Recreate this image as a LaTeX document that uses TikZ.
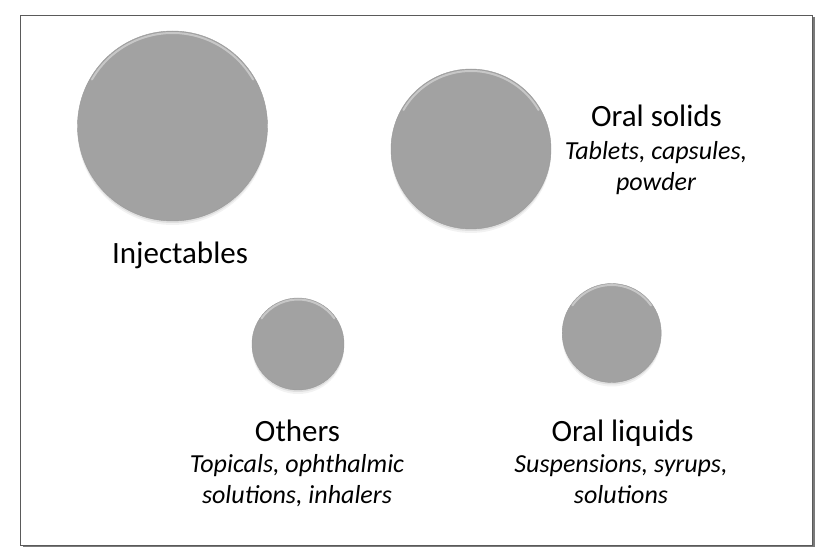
\documentclass[tikz,border=0pt]{standalone}
\usepackage{fontspec}
\setmainfont{Carlito}
\usetikzlibrary{calc}
\definecolor{orbgray}{HTML}{A2A2A2}
\definecolor{orbedge}{HTML}{9A9A9A}
\definecolor{framecol}{HTML}{5A5A5A}
\definecolor{shadowcol}{HTML}{7A7A7A}
\tikzset{
  orb/.style={circle, inner sep=0pt, fill=orbgray, draw=orbedge, line width=0.4pt,
    preaction={fill=black, opacity=0.05, transform canvas={yshift=-4pt}},
    preaction={fill=black, opacity=0.08, transform canvas={yshift=-2pt}}},
  hilite/.style={white, opacity=0.4, line width=2pt, line cap=round},
  title/.style={inner sep=0pt, anchor=base, font=\fontsize{31}{37}\selectfont},
  desc/.style={inner sep=0pt, anchor=base, align=center, font=\fontsize{26}{31}\selectfont\itshape},
}
\begin{document}
\begin{tikzpicture}[x=1pt, y=1pt]
\useasboundingbox (0,0) rectangle (820,549);
% frame with shadow
\fill[shadowcol] (22.5,1.5) rectangle (814.5,531.5);
\fill[white] (20,4) rectangle (812,534);
\draw[framecol, line width=0.8pt] (20,4) rectangle (812,534);

% circles
\node[orb, minimum size=190pt] (inj) at (172.5,423) {};
\node[orb, minimum size=160pt] (sol) at (471,400) {};
\node[orb, minimum size=92pt] (oth) at (298,205) {};
\node[orb, minimum size=99pt] (liq) at (611.7,216) {};

\draw[hilite] ($(inj.center)+(150:93pt)$) arc[start angle=150, end angle=30, radius=93pt];
\draw[hilite] ($(sol.center)+(150:78pt)$) arc[start angle=150, end angle=30, radius=78pt];
\draw[hilite] ($(oth.center)+(145:44.5pt)$) arc[start angle=145, end angle=35, radius=44.5pt];
\draw[hilite] ($(liq.center)+(145:48pt)$) arc[start angle=145, end angle=35, radius=48pt];

% labels
\node[title] (injT) at (180,285) {Injectables};
\node[title] (solT) at (656.5,422.3) {Oral solids};
\node[desc] (solD) at (656,358) {Tablets, capsules,\\powder};
\node[title] (othT) at (297.5,107.5) {Others};
\node[desc] (othD) at (297,45) {Topicals, ophthalmic\\solutions, inhalers};
\node[title] (liqT) at (622.5,107.5) {Oral liquids};
\node[desc] (liqD) at (621,45) {Suspensions, syrups,\\solutions};
\end{tikzpicture}
\end{document}
